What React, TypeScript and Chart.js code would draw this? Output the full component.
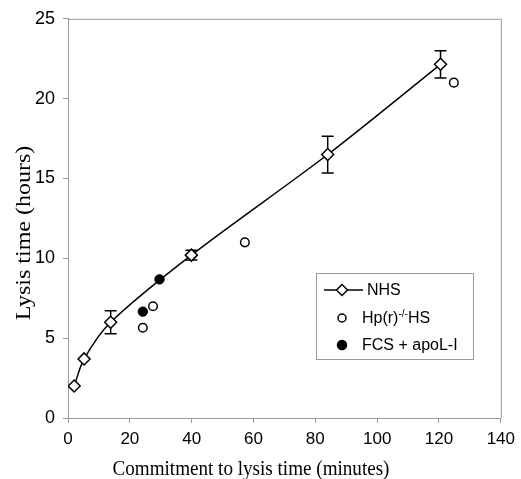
import React, { useEffect, useRef } from "react";
import { Chart, registerables } from "chart.js";

Chart.register(...registerables);

// NHS series (diamonds, with line and error bars)
const nhsX = [2, 5.2, 13.8, 39.9, 84, 120.5];
const nhsY = [2.0, 3.7, 6.0, 10.2, 16.5, 22.15];
const nhsErr = [0, 0, 0.72, 0.3, 1.15, 0.85];

// Hp(r)-/-HS (open circles)
const hpX = [24.2, 27.5, 57.2, 124.8];
const hpY = [5.65, 7.0, 11.0, 21.0];

// FCS + apoL-I (filled circles)
const fcsX = [24.2, 29.6];
const fcsY = [6.66, 8.68];

const xTicks = [0, 20, 40, 60, 80, 100, 120, 140];
const yTicks = [0, 5, 10, 15, 20, 25];

const xTitle = "Commitment to lysis time (minutes)";
const yTitle = "Lysis time (hours)";
const legendLabels = ["NHS", "Hp(r)", "FCS + apoL-I"];

const SANS = "'Liberation Sans', Arial, sans-serif";
const SERIF = "'Liberation Serif', 'Times New Roman', serif";

const toPts = (xs: number[], ys: number[]) => xs.map((x, i) => ({ x, y: ys[i] }));

const errorBars = {
  id: "errorBars",
  beforeDatasetsDraw(chart: any) {
    const { ctx, scales } = chart;
    const xs = scales.x, ys = scales.y;
    ctx.save();
    ctx.strokeStyle = "#000";
    ctx.lineWidth = 1.5;
    nhsX.forEach((xv, i) => {
      const e = nhsErr[i];
      if (!e) return;
      const px = xs.getPixelForValue(xv);
      const top = ys.getPixelForValue(nhsY[i] + e);
      const bot = ys.getPixelForValue(nhsY[i] - e);
      ctx.beginPath();
      ctx.moveTo(px, top); ctx.lineTo(px, bot);
      ctx.moveTo(px - 6, top); ctx.lineTo(px + 6, top);
      ctx.moveTo(px - 6, bot); ctx.lineTo(px + 6, bot);
      ctx.stroke();
    });
    ctx.restore();
  },
};

const frameAndText = {
  id: "frameAndText",
  afterDraw(chart: any) {
    const { ctx, chartArea: a } = chart;
    ctx.save();
    // frame top/right
    ctx.strokeStyle = "#9a9a9a";
    ctx.lineWidth = 1;
    ctx.beginPath();
    ctx.moveTo(a.left, a.top + 0.5);
    ctx.lineTo(a.right + 0.5, a.top + 0.5);
    ctx.lineTo(a.right + 0.5, a.bottom);
    ctx.stroke();

    // axis titles
    ctx.fillStyle = "#000";
    ctx.font = `20px ${SERIF}`;
    ctx.textAlign = "center";
    ctx.textBaseline = "alphabetic";
    ctx.save();
    ctx.translate(251, 475);
    ctx.scale(0.955, 1);
    ctx.fillText(xTitle, 0, 0);
    ctx.restore();
    ctx.save();
    ctx.translate(30, 233);
    ctx.rotate(-Math.PI / 2);
    ctx.scale(1.2, 1);
    ctx.fillText(yTitle, 0, 0);
    ctx.restore();

    // legend
    const lx = 316.5, ly = 273.5, lw = 157, lh = 86;
    ctx.fillStyle = "#fff";
    ctx.fillRect(lx, ly, lw, lh);
    ctx.strokeStyle = "#9a9a9a";
    ctx.strokeRect(lx, ly, lw, lh);

    const rows = [290, 318, 345];
    const mx = 342;
    ctx.strokeStyle = "#000";
    ctx.lineWidth = 1.5;
    ctx.beginPath();
    ctx.moveTo(324, rows[0]); ctx.lineTo(363, rows[0]);
    ctx.stroke();
    ctx.beginPath();
    const r = 5.5;
    ctx.moveTo(mx, rows[0] - r); ctx.lineTo(mx + r, rows[0]);
    ctx.lineTo(mx, rows[0] + r); ctx.lineTo(mx - r, rows[0]); ctx.closePath();
    ctx.fillStyle = "#fff"; ctx.fill(); ctx.stroke();

    ctx.beginPath();
    ctx.arc(mx, rows[1], 4, 0, Math.PI * 2);
    ctx.fillStyle = "#fff"; ctx.fill(); ctx.stroke();
    ctx.beginPath();
    ctx.arc(mx, rows[2], 4.5, 0, Math.PI * 2);
    ctx.fillStyle = "#000"; ctx.fill(); ctx.stroke();

    ctx.fillStyle = "#000";
    ctx.textAlign = "left";
    ctx.textBaseline = "middle";
    ctx.font = `16px ${SANS}`;
    ctx.fillText(legendLabels[0], 367, rows[0] + 1);
    let tx = 362;
    ctx.fillText(legendLabels[1], tx, rows[1] + 1);
    tx += ctx.measureText(legendLabels[1]).width;
    ctx.font = `10px ${SANS}`;
    ctx.fillText("-/-", tx, rows[1] - 4);
    tx += ctx.measureText("-/-").width;
    ctx.font = `16px ${SANS}`;
    ctx.fillText("HS", tx, rows[1] + 1);
    ctx.fillText(legendLabels[2], 362, rows[2] + 1);
    ctx.restore();
  },
};

export default function App() {
  const ref = useRef<HTMLCanvasElement>(null);
  useEffect(() => {
    document.body.style.margin = "0";
    const chart = new Chart(ref.current!, {
      type: "scatter",
      data: {
        datasets: [
          {
            label: "NHS",
            data: toPts(nhsX, nhsY),
            showLine: true,
            tension: 0.3,
            borderColor: "#000",
            borderWidth: 1.5,
            pointStyle: "rectRot",
            pointRadius: 6,
            pointBackgroundColor: "#fff",
            pointBorderColor: "#000",
            pointBorderWidth: 1.5,
          },
          {
            label: "Hp",
            data: toPts(hpX, hpY),
            pointStyle: "circle",
            pointRadius: 4.3,
            pointBackgroundColor: "#fff",
            pointBorderColor: "#000",
            pointBorderWidth: 1.5,
          },
          {
            label: "FCS",
            data: toPts(fcsX, fcsY),
            pointStyle: "circle",
            pointRadius: 4.7,
            pointBackgroundColor: "#000",
            pointBorderColor: "#000",
            pointBorderWidth: 1,
          },
        ],
      },
      options: {
        animation: false,
        responsive: false,
        layout: { padding: { top: 16, right: 18, left: 0, bottom: 0 } },
        plugins: { legend: { display: false }, tooltip: { enabled: false } },
        scales: {
          x: {
            type: "linear",
            min: 0,
            max: 140,
            afterBuildTicks: (s: any) => { s.ticks = xTicks.map((v) => ({ value: v })); },
            afterFit: (s: any) => { s.height = 61; },
            grid: { drawOnChartArea: false, drawTicks: true, tickLength: 5, color: "#9a9a9a" },
            border: { color: "#9a9a9a", width: 1 },
            ticks: { color: "#000", font: { family: SANS, size: 17 }, padding: 6, maxRotation: 0 },
          },
          y: {
            type: "linear",
            min: 0,
            max: 25,
            afterBuildTicks: (s: any) => { s.ticks = yTicks.map((v) => ({ value: v })); },
            afterFit: (s: any) => { s.width = 68; },
            grid: { drawOnChartArea: false, drawTicks: true, tickLength: 5, color: "#9a9a9a" },
            border: { color: "#9a9a9a", width: 1 },
            ticks: { color: "#000", font: { family: SANS, size: 18 }, padding: 8 },
          },
        },
      },
      plugins: [errorBars, frameAndText],
    } as any);
    return () => chart.destroy();
  }, []);
  return <canvas ref={ref} width={521} height={479} style={{ display: "block" }} />;
}
